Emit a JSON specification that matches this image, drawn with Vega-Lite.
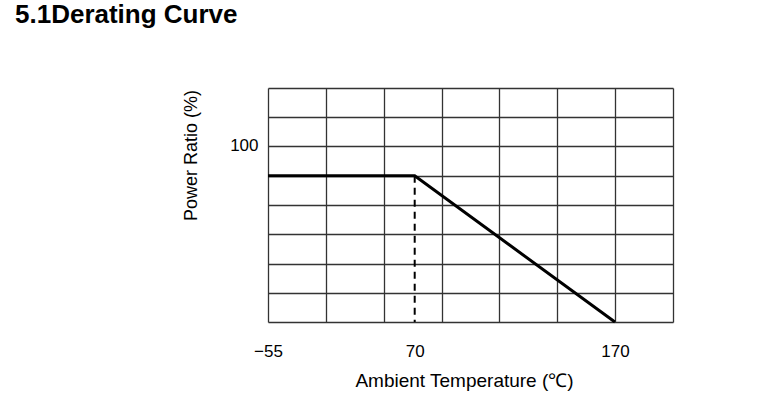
{
  "$schema": "https://vega.github.io/schema/vega-lite/v6.json",
  "autosize": {"type": "none"},
  "padding": {"left": 268, "top": 88, "right": 102, "bottom": 74},
  "width": 405,
  "height": 234,
  "background": "white",
  "title": {
    "text": "5.1Derating Curve",
    "anchor": "start",
    "frame": "group",
    "font": "Liberation Sans",
    "fontSize": 26,
    "fontWeight": "bold",
    "color": "black",
    "baseline": "alphabetic",
    "dx": -253,
    "dy": -25
  },
  "config": {
    "view": {"stroke": null},
    "font": "Liberation Sans"
  },
  "datasets": {
    "curve": [
      {"temp": -55, "ratio": 83.3},
      {"temp": 70, "ratio": 83.3},
      {"temp": 170, "ratio": 0}
    ],
    "knee": [
      {"temp": 70, "ratio": 83.3},
      {"temp": 70, "ratio": 0}
    ]
  },
  "layer": [
    {
      "data": {"name": "knee"},
      "mark": {"type": "line", "color": "black", "strokeWidth": 2, "strokeDash": [7, 5]},
      "encoding": {
        "x": {"field": "temp", "type": "quantitative"},
        "y": {"field": "ratio", "type": "quantitative"}
      }
    },
    {
      "data": {"name": "curve"},
      "mark": {"type": "line", "color": "black", "strokeWidth": 3},
      "encoding": {
        "x": {
          "field": "temp",
          "type": "quantitative",
          "scale": {"domain": [-55, 70, 199], "range": [0, 146.7, 405], "nice": false, "zero": false},
          "axis": {
            "title": "Ambient Temperature (℃)",
            "values": [-55, -5.7, 43.6, 70, 83.4, 112.3, 141.2, 170, 199],
            "tickCount": 30,
            "labelExpr": "datum.value == -55 || datum.value == 70 || datum.value == 170 ? datum.label : ''",
            "labelOverlap": false,
            "grid": true,
            "gridColor": {"condition": {"test": "datum.value == 70", "value": "transparent"}, "value": "#333333"},
            "gridWidth": 1.3,
            "domain": false,
            "ticks": false,
            "labelPadding": 34,
            "labelBaseline": "alphabetic",
            "labelFontSize": 17,
            "labelColor": "black",
            "labelFont": "Liberation Sans",
            "labelFlush": false,
            "titleFont": "Liberation Sans",
            "titleFontSize": 19,
            "titleFontWeight": "normal",
            "titleColor": "black",
            "titleX": 196,
            "titleY": 64,
            "titleBaseline": "alphabetic",
            "titleAlign": "center"
          }
        },
        "y": {
          "field": "ratio",
          "type": "quantitative",
          "scale": {"domain": [0, 133.333], "nice": false, "zero": true},
          "axis": {
            "title": "Power Ratio (%)",
            "values": [0, 16.667, 33.333, 50, 66.667, 83.333, 100, 116.667, 133.333],
            "tickCount": 30,
            "labelExpr": "datum.value == 100 ? '100' : ''",
            "labelOverlap": false,
            "grid": true,
            "gridColor": "#333333",
            "gridWidth": 1.3,
            "domain": false,
            "ticks": false,
            "labelPadding": 10,
            "labelFontSize": 17,
            "labelColor": "black",
            "labelFont": "Liberation Sans",
            "labelBaseline": "alphabetic",
            "labelOffset": 4,
            "labelFlush": false,
            "titleFont": "Liberation Sans",
            "titleFontSize": 18,
            "titleFontWeight": "normal",
            "titleColor": "black",
            "titleX": -77,
            "titleY": 67,
            "titleBaseline": "middle",
            "titleAlign": "center"
          }
        }
      }
    }
  ]
}
